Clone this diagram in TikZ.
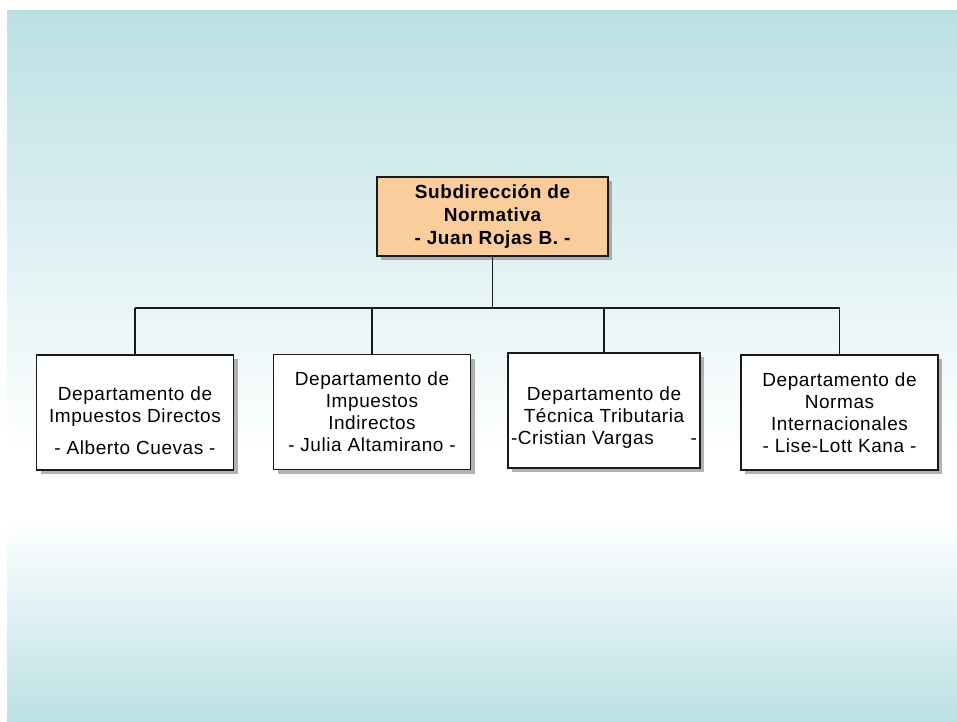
\documentclass[tikz,border=0pt]{standalone}
\usepackage{fontspec}
\setmainfont{Liberation Sans}[LetterSpace=3]
\usetikzlibrary{shadows}
\definecolor{bgblue}{HTML}{BBE0E4}
\definecolor{peach}{HTML}{FBCD9C}
\tikzset{%
	unit/.style={draw=black!90, line width=1.9pt, rectangle, align=center, inner sep=1pt,%
		drop shadow={shadow xshift=4pt, shadow yshift=-4pt, fill=black!50, opacity=0.6}},
	head/.style={unit, fill=peach, minimum width=231pt, minimum height=79pt,%
		font=\fontsize{19}{23}\selectfont\bfseries},
	dept/.style={unit, fill=white, minimum width=197pt, minimum height=115pt,%
		font=\fontsize{19}{22}\selectfont},
	connector/.style={line width=1.9pt, draw=black!90}
}
\begin{document}
\begin{tikzpicture}[x=1pt, y=-1pt]
		\useasboundingbox (0,0) rectangle (957,721);
		\fill [top color=bgblue, bottom color=white] (7,10) rectangle (957,450);
		\fill [white] (7,450) rectangle (957,520);
		\fill [top color=white, bottom color=bgblue] (7,520) rectangle (957,721);

		\node[head] (sub) at (492.5,216.5) {Subdirección de\\Normativa\\- Juan Rojas B. -};
		\node[dept] (d-dir) at (135,412.5) {\rule{0pt}{30pt}Departamento de\\Impuestos Directos\\[10pt]- Alberto Cuevas -};
		\node[dept] (d-ind) at (372,412) {Departamento de\\Impuestos\\Indirectos\\- Julia Altamirano -};
		\node[dept, minimum width=192pt] (d-tec) at (604,410.5) {\rule{0pt}{28pt}Departamento de\\Técnica Tributaria\\\hbox to 186pt{-Cristian Vargas\hfill-}};
		\node[dept] (d-int) at (839.5,412.5) {Departamento de\\Normas\\Internacionales\\- Lise-Lott Kana -};

		\coordinate (bar) at (491,308);
		\draw [connector] (sub.south) -- (sub.south |- bar);
		\draw [connector] (d-dir.north |- bar) -- (d-int.north |- bar);
		\foreach \d in {d-dir, d-ind, d-tec, d-int}
			\draw [connector] (\d.north |- bar) -- (\d.north);
	\end{tikzpicture}
\end{document}
